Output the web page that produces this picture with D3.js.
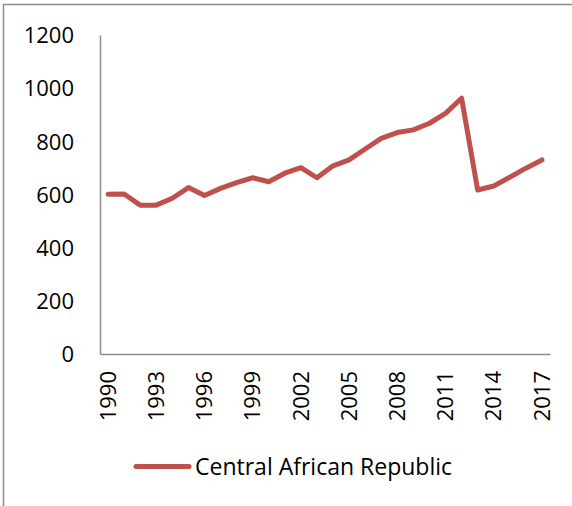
<!DOCTYPE html>
<html>
<head>
<meta charset="utf-8">
<script src="https://cdn.jsdelivr.net/npm/d3@7/dist/d3.min.js"></script>
<style>
  html, body { margin: 0; padding: 0; background: #fff; }
  svg { display: block; }
  text { font-family: "Open Sans", "Noto Sans", sans-serif; fill: #000; }
</style>
</head>
<body>
<svg id="chart" width="572" height="506"></svg>
<script>
const years = d3.range(1990, 2018);
const seriesName = "Central African Republic";
const values = [601, 602, 560, 560, 586, 626, 596, 623, 645, 663,
                648, 680, 701, 663, 708, 730, 771, 811, 833, 843,
                868, 905, 962, 617, 632, 665, 699, 730];
const yTicks = [0, 200, 400, 600, 800, 1000, 1200];
const xTickYears = [1990, 1993, 1996, 1999, 2002, 2005, 2008, 2011, 2014, 2017];

(function () {
const svg = d3.select("#chart");
const plotLeft = 100, plotRight = 550, plotTop = 35, plotBottom = 354;

// outer frame
svg.append("rect")
  .attr("x", 3.5).attr("y", 4.5)
  .attr("width", 700).attr("height", 700)
  .attr("fill", "none").attr("stroke", "#8c8c8c").attr("stroke-width", 1.5);

const x = d3.scaleBand().domain(years).range([plotLeft, plotRight]).padding(0);
const y = d3.scaleLinear().domain([0, 1200]).range([plotBottom, plotTop]);

// y axis
const yAxis = svg.append("g")
  .attr("transform", `translate(${plotLeft},0)`)
  .call(d3.axisLeft(y).tickValues(yTicks).tickFormat(d3.format("d")).tickSize(0).tickPadding(26));
yAxis.select(".domain").attr("stroke", "#8c8c8c").attr("stroke-width", 1.5);
yAxis.selectAll("text").style("font-size", "22px").attr("dy", "0.35em");

// x axis
const xAxis = svg.append("g")
  .attr("transform", `translate(0,${plotBottom})`)
  .call(d3.axisBottom(x).tickValues(xTickYears).tickFormat(d3.format("d")).tickSize(0).tickPadding(0));
xAxis.select(".domain").attr("stroke", "#8c8c8c").attr("stroke-width", 1.5);
xAxis.selectAll("text")
  .style("font-size", "22px")
  .attr("text-anchor", "end")
  .attr("transform", "rotate(-90)")
  .attr("x", -17)
  .attr("y", 0)
  .attr("dy", "0.35em");

// line
const line = d3.line()
  .x((d, i) => x(years[i]) + x.bandwidth() / 2)
  .y(d => y(d));
svg.append("path")
  .datum(values)
  .attr("d", line)
  .attr("fill", "none")
  .attr("stroke", "#C0504D")
  .attr("stroke-width", 5)
  .attr("stroke-linejoin", "round")
  .attr("stroke-linecap", "round");

// legend
const lg = svg.append("g");
lg.append("line")
  .attr("x1", 136).attr("x2", 189)
  .attr("y1", 466.5).attr("y2", 466.5)
  .attr("stroke", "#C0504D").attr("stroke-width", 5)
  .attr("stroke-linecap", "round");
lg.append("text")
  .attr("x", 195).attr("y", 475)
  .style("font-size", "23px")
  .text(seriesName);
})();
</script>
</body>
</html>
